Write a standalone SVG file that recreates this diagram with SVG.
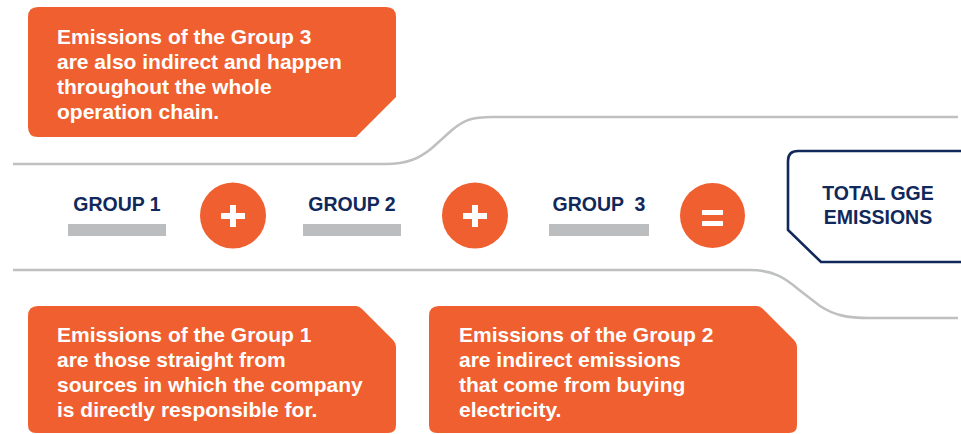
<svg xmlns="http://www.w3.org/2000/svg" width="961" height="434" viewBox="0 0 961 434">
<style>
.box{fill:#ef5f2f}
.body{font-family:"Liberation Sans",Arial,sans-serif;font-weight:bold;font-size:21px;fill:#ffffff}
.lbl{font-family:"Liberation Sans",Arial,sans-serif;font-weight:bold;font-size:19.5px;fill:#10285a}
.bar{fill:#bcbdbf}
.line{fill:none;stroke:#bfc0c2;stroke-width:2.6}
.op{fill:#ef5f2f}
.sign{fill:#ffffff}
</style>
<rect width="961" height="434" fill="#ffffff"/>
<g id="connectors">
<path class="line" d="M13,164 H385 C408,164 420,158 432,148 L452,130 C464,120 472,117 492,117 H958"/>
<path class="line" d="M13,270 H750 C773,270 785,278 798,289 L820,306 C834,315 846,318 870,318 H958"/>
</g>
<g id="note3">
<path class="box" d="M38,7 H386 Q396,7 396,17 V97 L356,137 H38 Q28,137 28,127 V17 Q28,7 38,7 Z"/>
<text class="body" x="57" y="44">Emissions of the Group 3</text>
<text class="body" x="57" y="69">are also indirect and happen</text>
<text class="body" x="57" y="94">throughout the whole</text>
<text class="body" x="57" y="119">operation chain.</text>
</g>
<g id="group1">
<text class="lbl" x="117" y="211" text-anchor="middle">GROUP 1</text>
<rect class="bar" x="68" y="224" width="98" height="12"/>
</g>
<g id="plus1">
<circle class="op" cx="233" cy="215.5" r="33"/>
<rect class="sign" x="221" y="213" width="24" height="6"/>
<rect class="sign" x="230" y="205" width="6" height="22"/>
</g>
<g id="group2">
<text class="lbl" x="352" y="211" text-anchor="middle">GROUP 2</text>
<rect class="bar" x="303" y="224" width="98" height="12"/>
</g>
<g id="plus2">
<circle class="op" cx="475" cy="215.5" r="33"/>
<rect class="sign" x="463" y="213" width="24" height="6"/>
<rect class="sign" x="472" y="205" width="6" height="22"/>
</g>
<g id="group3">
<text class="lbl" x="599" y="211" text-anchor="middle" xml:space="preserve">GROUP  3</text>
<rect class="bar" x="549" y="224" width="100" height="12"/>
</g>
<g id="equals">
<circle class="op" cx="712.5" cy="215.5" r="32.5"/>
<rect class="sign" x="702" y="210" width="21" height="5"/>
<rect class="sign" x="702" y="221" width="21" height="5"/>
</g>
<g id="total">
<path d="M975,151 H798 Q788,151 788,161 V230 L821,262 H975" fill="#ffffff" stroke="#10285a" stroke-width="2.6"/>
<text class="lbl" x="878" y="200" text-anchor="middle">TOTAL GGE</text>
<text class="lbl" x="878" y="224" text-anchor="middle">EMISSIONS</text>
</g>
<g id="note1">
<path class="box" d="M38,306 H356 Q359,306 362,309 L393,340 Q396,343 396,348 V425 Q396,433 388,433 H36 Q28,433 28,425 V316 Q28,306 38,306 Z"/>
<text class="body" x="57" y="342">Emissions of the Group 1</text>
<text class="body" x="57" y="367">are those straight from</text>
<text class="body" x="57" y="392">sources in which the company</text>
<text class="body" x="57" y="417">is directly responsible for.</text>
</g>
<g id="note2">
<path class="box" d="M439,306 H757 Q760,306 763,309 L794,340 Q797,343 797,348 V425 Q797,433 789,433 H437 Q429,433 429,425 V316 Q429,306 439,306 Z"/>
<text class="body" x="459" y="342">Emissions of the Group 2</text>
<text class="body" x="459" y="367">are indirect emissions</text>
<text class="body" x="459" y="392">that come from buying</text>
<text class="body" x="459" y="417">electricity.</text>
</g>
</svg>
